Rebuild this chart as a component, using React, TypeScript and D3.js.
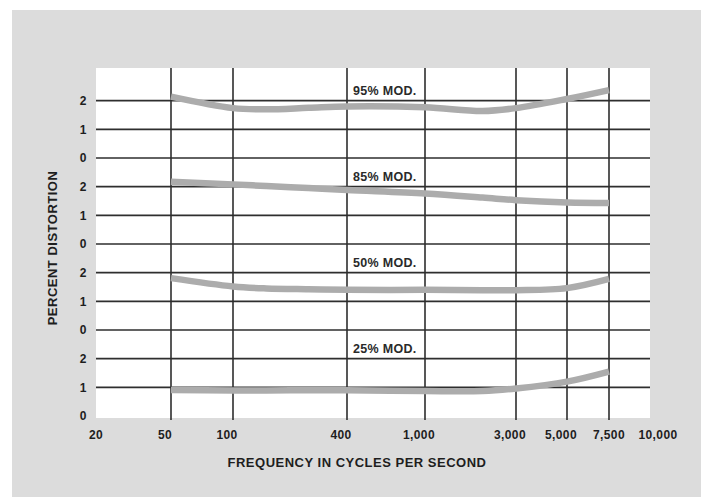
import React from "react";
import * as d3 from "d3";

// ---- data ----
const xTickValues = [20, 50, 100, 400, 1000, 3000, 5000, 7500, 10000];
const xTickLabels = ["20", "50", "100", "400", "1,000", "3,000", "5,000", "7,500", "10,000"];
const gridFreqs = [50, 100, 400, 1000, 3000, 5000, 7500];
const yTickValues = [0, 1, 2];
const freqs = [50, 100, 150, 250, 400, 1000, 2000, 3000, 5000, 7500];
const mod95 = [2.14, 1.74, 1.7, 1.75, 1.8, 1.77, 1.64, 1.74, 2.06, 2.37];
const mod85 = [2.17, 2.08, 2.02, 1.95, 1.88, 1.76, 1.62, 1.53, 1.45, 1.43];
const mod50 = [1.81, 1.52, 1.45, 1.42, 1.4, 1.4, 1.39, 1.39, 1.46, 1.78];
const mod25 = [0.91, 0.89, 0.89, 0.9, 0.9, 0.87, 0.87, 0.96, 1.2, 1.55];
const seriesNames = ["25% MOD.", "50% MOD.", "85% MOD.", "95% MOD."];
const seriesValues = [mod25, mod50, mod85, mod95];

// ---- layout ----
const W = 701;
const H = 497;
const xRange = [96, 171, 233, 347, 425, 516, 567, 609, 658];
const plotLeft = 96;
const plotRight = 650;
const plotTop = 68;
const plotBottom = 418;
const panelStep = 3;
const font = "'Liberation Sans', Arial, sans-serif";

export default function App() {
  const x = d3.scaleLog().domain(xTickValues).range(xRange);
  const y = d3.scaleLinear().domain([0, 12]).range([416, 72]);
  const panels = d3.range(4);

  const line = (vals: number[], offset: number) =>
    d3
      .line<number>()
      .x((_, i) => x(freqs[i]))
      .y((v) => y(v + offset))
      .curve(d3.curveCatmullRom.alpha(0.5))(vals) as string;

  return (
    <svg
      width={W}
      height={H}
      style={{ position: "absolute", left: 0, top: 0, background: "#ffffff" }}
      fontFamily={font}
    >
      <rect x={12} y={10} width={W - 12} height={H - 10} fill="#dcdcdc" />
      <rect x={plotLeft} y={plotTop} width={plotRight - plotLeft} height={plotBottom - plotTop} fill="#ffffff" />

      {/* horizontal grid */}
      {panels.map((p) =>
        yTickValues
          .filter((v) => !(p === 0 && v === 0))
          .map((v) => (
            <line
              key={`h${p}-${v}`}
              x1={plotLeft}
              x2={plotRight}
              y1={y(v + p * panelStep)}
              y2={y(v + p * panelStep)}
              stroke="#2e2e2e"
              strokeWidth={1.6}
            />
          ))
      )}
      {/* vertical grid */}
      {gridFreqs.map((f) => (
        <line key={`v${f}`} x1={x(f)} x2={x(f)} y1={plotTop} y2={plotBottom + 2} stroke="#2e2e2e" strokeWidth={1.6} />
      ))}

      {/* curves */}
      {seriesValues.map((vals, p) => (
        <path
          key={`c${p}`}
          d={line(vals, p * panelStep)}
          fill="none"
          stroke="#acacac"
          strokeWidth={6.5}
          strokeLinecap="butt"
        />
      ))}

      {/* series labels */}
      {seriesNames.map((name, p) => (
        <text
          key={`l${p}`}
          x={x(400) + 6}
          y={y(2.2 + p * panelStep)}
          fontSize={12.5}
          fontWeight="bold"
          letterSpacing={0.3}
          fill="#2a2a2a"
        >
          {name}
        </text>
      ))}

      {/* y tick labels */}
      {panels.map((p) =>
        yTickValues.map((v) => (
          <text
            key={`yt${p}-${v}`}
            x={83}
            y={y(v + p * panelStep)}
            dy="0.35em"
            textAnchor="middle"
            fontSize={12}
            fontWeight="bold"
            fill="#1e1e1e"
          >
            {v}
          </text>
        ))
      )}

      {/* x tick labels */}
      {xTickValues.map((t, i) => (
        <text
          key={`xt${t}`}
          x={x(t) - (i === 0 || i >= 7 ? 0 : 6)}
          y={439}
          textAnchor="middle"
          fontSize={12}
          fontWeight="bold"
          letterSpacing={0.4}
          fill="#1e1e1e"
        >
          {xTickLabels[i]}
        </text>
      ))}

      {/* axis titles */}
      <text
        x={357}
        y={467}
        textAnchor="middle"
        fontSize={13}
        fontWeight="bold"
        letterSpacing={0.5}
        fill="#1e1e1e"
      >
        FREQUENCY IN CYCLES PER SECOND
      </text>
      <text
        transform={`translate(57, 248) rotate(-90)`}
        textAnchor="middle"
        fontSize={13}
        fontWeight="bold"
        letterSpacing={0.5}
        fill="#1e1e1e"
      >
        PERCENT DISTORTION
      </text>
    </svg>
  );
}
